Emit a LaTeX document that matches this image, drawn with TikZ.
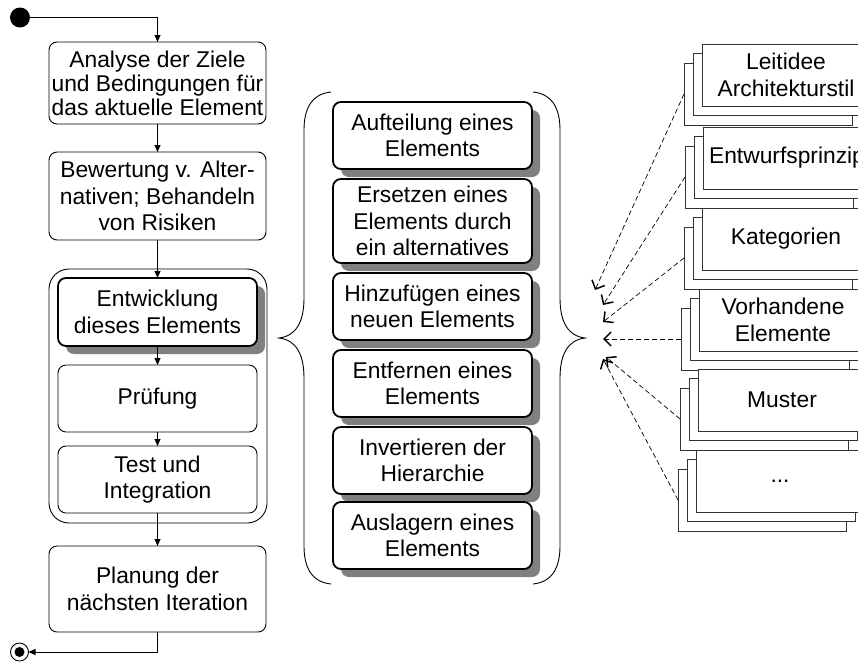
\documentclass[tikz,border=0pt]{standalone}
\usepackage{fontspec}
\setmainfont{Liberation Sans}
\usetikzlibrary{arrows.meta,shadows}
\newcommand{\mystack}[4]{%
  \node[stackbox] (#1c) at (#2-18,#3+19) {};
  \node[stackbox] (#1b) at (#2-9,#3+9.5) {};
  \node[stackbox, txt] (#1a) at (#2,#3) {#4};
}
\begin{document}
\begin{tikzpicture}[x=1pt,y=-1pt,
  every node/.style={inner sep=0pt, outer sep=0pt},
  txt/.style={font=\fontsize{22.8}{26.5}\selectfont, align=center},
  act/.style={txt, draw, line width=0.9pt, rounded corners=8pt, fill=white},
  actbold/.style={act, line width=1.8pt, drop shadow={shadow xshift=8pt,shadow yshift=-8pt,fill=black!50,opacity=1}},
  flow/.style={line width=0.9pt, -{Triangle[length=7pt,width=6pt]}},
  stackbox/.style={draw=black!80, line width=0.9pt, fill=white, minimum width=168pt, minimum height=62pt, anchor=north west},
  hint/.style={dash pattern=on 5pt off 3pt, line width=0.7pt, -{Straight Barb[length=7pt,width=14pt,line width=1.5pt]}},
  brace/.style={line width=0.9pt}
]
\useasboundingbox (0,0) rectangle (858,662);
\clip (0,0) rectangle (858,662);

% left column
\node[circle, fill, minimum size=20pt] (start) at (20,17.5) {};
\node[act, minimum width=217pt, minimum height=82pt, font=\fontsize{22.8}{24}\selectfont] (b1) at (157.5,83) {Analyse der Ziele\\und Bedingungen für\\das aktuelle Element};
\node[act, minimum width=217pt, minimum height=88pt] (b2) at (157.5,196) {Bewertung v. Alter-\\nativen; Behandeln\\von Risiken};
\node[draw, rounded corners=20pt, line width=0.9pt, minimum width=218pt, minimum height=254pt] (cont) at (158,396) {};
\node[actbold, minimum width=199pt, minimum height=68pt] (entw) at (157.5,312) {Entwicklung\\dieses Elements};
\node[act, minimum width=199pt, minimum height=67pt] (pruef) at (157.5,398.5) {Prüfung};
\node[act, minimum width=199pt, minimum height=67pt] (test) at (157.5,479.5) {Test und\\Integration};
\node[act, minimum width=217pt, minimum height=86pt] (plan) at (157.5,589) {Planung der\\nächsten Iteration};
\node[circle, draw, line width=0.9pt, minimum size=18pt] (end) at (19.5,652) {};
\fill (end.center) circle (5pt);

\draw[flow] (start.east) -| (b1.north);
\draw[flow] (b1.south) -- (b2.north);
\draw[flow] (b2.south) -- (entw.north);
\draw[flow] (entw.south) -- (pruef.north);
\draw[flow] (pruef.south) -- (test.north);
\draw[flow] (test.south) -- (plan.north);
\draw[flow] (plan.south) |- (end.east);

% braces
\draw[brace] (331,92) .. controls (312,94) and (304,108) .. (304,130) -- (304,298)
  .. controls (304,322) and (296,336) .. (279,338)
  .. controls (296,340) and (304,354) .. (304,378) -- (304,546)
  .. controls (304,568) and (312,582) .. (331,584);
\draw[brace] (533,92) .. controls (552,94) and (560,108) .. (560,130) -- (560,298)
  .. controls (560,322) and (568,336) .. (585,338)
  .. controls (568,340) and (560,354) .. (560,378) -- (560,546)
  .. controls (560,568) and (552,582) .. (533,584);

% middle boxes
\node[actbold, minimum width=199pt, minimum height=67pt] (m1) at (432.5,135.5) {Aufteilung eines\\Elements};
\node[actbold, minimum width=199pt, minimum height=84pt] (m2) at (432.5,221) {Ersetzen eines\\Elements durch\\ein alternatives};
\node[actbold, minimum width=199pt, minimum height=67pt] (m3) at (432.5,306.5) {Hinzufügen eines\\neuen Elements};
\node[actbold, minimum width=199pt, minimum height=67pt] (m4) at (432.5,383.5) {Entfernen eines\\Elements};
\node[actbold, minimum width=199pt, minimum height=67pt] (m5) at (432.5,460.5) {Invertieren der\\Hierarchie};
\node[actbold, minimum width=199pt, minimum height=67pt] (m6) at (432.5,535.5) {Auslagern eines\\Elements};

% right stacks
\mystack{sa}{702}{44}{Leitidee\\Architekturstil}
\mystack{sb}{703}{127}{Entwurfsprinzip}
\mystack{sc}{702}{208}{Kategorien}
\mystack{sd}{699}{289}{Vorhandene\\Elemente}
\mystack{se}{698}{369}{Muster}
\mystack{sf}{696}{450}{...}

\coordinate (t1) at (595,290);
\coordinate (t2) at (603,305);
\coordinate (t3) at (603,322);
\coordinate (t4) at (603,339);
\coordinate (t5) at (606,357);
\coordinate (t6) at (603,359);
\draw[hint] (sac.west) -- (t1);
\draw[hint] (sbc.west) -- (t2);
\draw[hint] (scc.west) -- (t3);
\draw[hint] (sdc.west) -- (t4);
\draw[hint] (sec.west) -- (t5);
\draw[hint] (sfc.west) -- (t6);
\end{tikzpicture}
\end{document}
